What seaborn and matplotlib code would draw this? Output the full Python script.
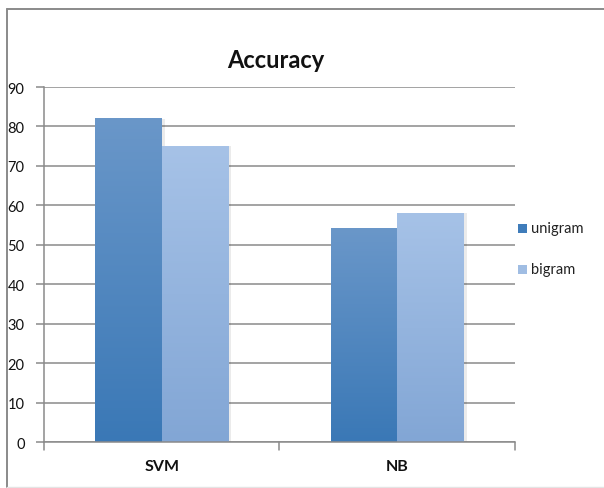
import numpy as np
import pandas as pd
import matplotlib
matplotlib.use("Agg")
import matplotlib.pyplot as plt
from matplotlib.colors import LinearSegmentedColormap
from matplotlib.patches import Rectangle
from matplotlib.lines import Line2D
import seaborn as sns

classifiers = ["SVM", "NB"]
features = ["unigram", "bigram"]
unigram_acc = [82, 54]
bigram_acc = [75, 58]
y_ticks = [0, 10, 20, 30, 40, 50, 60, 70, 80, 90]

df = pd.DataFrame({
    "classifier": classifiers * 2,
    "feature": [features[0]] * 2 + [features[1]] * 2,
    "accuracy": unigram_acc + bigram_acc,
})

sns.set_style("white")
plt.rcParams["font.family"] = ["Lato", "DejaVu Sans"]

fig = plt.figure(figsize=(6.04, 4.89), dpi=100)
ax = fig.add_axes([0.0728, 0.094, 0.7798, 0.726])

legend_colors = {"unigram": "#3f7cba", "bigram": "#a0bde3"}
sns.barplot(data=df, x="classifier", y="accuracy", hue="feature",
            palette=legend_colors, width=0.566, ax=ax, legend=False,
            saturation=1, linewidth=0)

# vertical gradient fill for each bar
gradients = {
    "unigram": ("#3a78b6", "#6a97c9"),
    "bigram": ("#82a6d5", "#a6c2e7"),
}
ax.set_ylim(0, 90)
for feat, container in zip(features, ax.containers):
    cmap = LinearSegmentedColormap.from_list(feat, gradients[feat])
    for bar in container:
        x0, y0 = bar.get_x(), bar.get_y()
        w, h = bar.get_width(), bar.get_height()
        # soft shadow on the right side
        ax.add_patch(Rectangle((x0 + w, y0), 0.012, h, color="#000000",
                               alpha=0.08, lw=0, zorder=1.5))
        bar.set_alpha(0)
        grad = np.linspace(0, 1, 256).reshape(-1, 1)
        ax.imshow(grad, cmap=cmap, origin="lower", aspect="auto",
                  extent=(x0, x0 + w, y0, y0 + h), zorder=2)
ax.set_xlim(-0.5, 1.5)
ax.set_ylim(0, 90)

ax.set_yticks(y_ticks)
ax.yaxis.grid(True, color="#8a8a8a", linewidth=1.1)
ax.set_axisbelow(True)
for s in ["top", "right", "bottom"]:
    ax.spines[s].set_visible(False)
ax.spines["left"].set_color("#8a8a8a")
ax.spines["left"].set_linewidth(1.1)

ax.tick_params(axis="y", which="both", left=True, length=6, width=1.1,
               color="#8a8a8a", labelsize=10.5, pad=8, labelcolor="#111111")
ax.set_xticks([])
ax.set_xlabel("")
ax.set_ylabel("")

# category labels and the boundary ticks below the axis
for i, name in enumerate(classifiers):
    ax.text(i, -4.2, name, ha="center", va="top", fontsize=11.5,
            fontweight="bold", color="#111111", transform=ax.transData,
            clip_on=False)
for xb in [-0.5, 0.5, 1.5]:
    ax.plot([xb, xb], [0, -2.0], color="#8a8a8a", lw=1.1, clip_on=False)
ax.plot([-0.5, 1.5], [0, 0], color="#8a8a8a", lw=1.1, clip_on=False, zorder=3)

fig.text(0.457, 0.877, "Accuracy", ha="center", va="center",
         fontsize=17, fontweight="bold", color="#111111")

# legend
for feat, ypix in zip(features, [229, 270]):
    yf = 1 - ypix / 489
    fig.patches.append(Rectangle((518 / 604, yf - 4.5 / 489), 9 / 604, 9 / 489,
                                 transform=fig.transFigure,
                                 color=legend_colors[feat], lw=0))
    fig.text(531 / 604, yf, feat, ha="left", va="center", fontsize=10.5,
             color="#222222")

# outer frame: top and left edges, faint bottom edge
top_y = 1 - 9.5 / 489
left_x = 7.5 / 604
bot_y = 1 - 487.5 / 489
fig.lines.append(Line2D([left_x, 1.0], [top_y, top_y], transform=fig.transFigure,
                        color="#8a8a8a", lw=1.4))
fig.lines.append(Line2D([left_x, left_x], [bot_y, top_y], transform=fig.transFigure,
                        color="#8a8a8a", lw=1.4))
fig.lines.append(Line2D([left_x, 1.0], [bot_y, bot_y], transform=fig.transFigure,
                        color="#e4e4e4", lw=1.0))

fig.savefig("out.png", dpi=100)
